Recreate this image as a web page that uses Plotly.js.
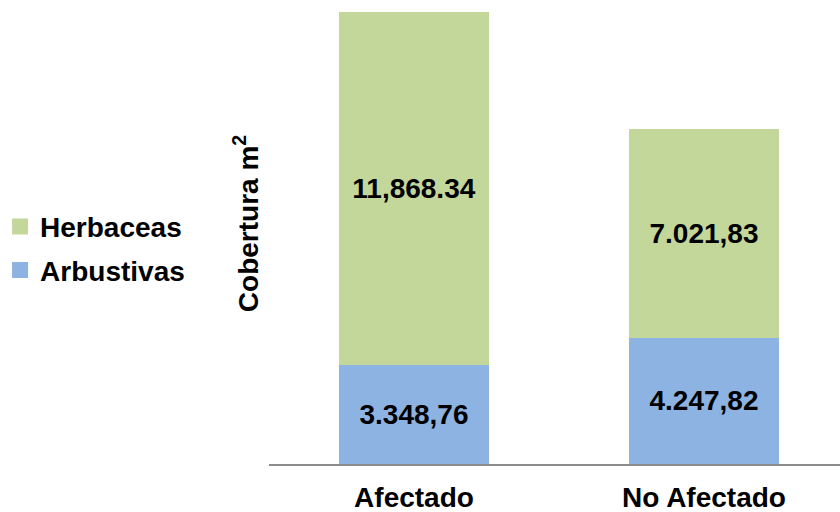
<!DOCTYPE html>
<html>
<head>
<meta charset="utf-8">
<script src="https://cdn.plot.ly/plotly-3.0.1.min.js"></script>
<style>html,body{margin:0;padding:0;background:#fff;}#chart{width:840px;height:512px;}</style>
</head>
<body>
<div id="chart"></div>
<script>
const categories = ["Afectado", "No Afectado"];
const arbustivas = [3348.76, 4247.82];
const herbaceas = [11868.34, 7021.83];
const arbustivasLabels = ["3.348,76", "4.247,82"];
const herbaceasLabels = ["11,868.34", "7.021,83"];
const seriesNames = ["Arbustivas", "Herbaceas"];
const seriesColors = ["#8DB3E2", "#C4D79B"];

const FAM = "Liberation Sans, Arial, sans-serif";
const FS = 28;
const labelFont = {family: FAM, size: FS, color: "#000", weight: "bold"};

const total = Math.max(...arbustivas.map((v, i) => v + herbaceas[i]));

const traces = [
  {type: "bar", name: seriesNames[0], x: categories, y: arbustivas, text: arbustivasLabels,
   textposition: "inside", insidetextanchor: "middle", constraintext: "none", textfont: labelFont,
   marker: {color: seriesColors[0]}, width: 0.514, showlegend: false, hoverinfo: "skip"},
  {type: "bar", name: seriesNames[1], x: categories, y: herbaceas, text: herbaceasLabels,
   textposition: "inside", insidetextanchor: "middle", constraintext: "none", textfont: labelFont,
   marker: {color: seriesColors[1]}, width: 0.514, showlegend: false, hoverinfo: "skip"},
  {type: "scatter", mode: "markers", name: "<b>" + seriesNames[1] + "</b>", x: [null], y: [null],
   marker: {symbol: "square", size: 17, color: seriesColors[1]}, legendrank: 1, legendgroup: "h", hoverinfo: "skip"},
  {type: "scatter", mode: "markers", name: "<b>" + seriesNames[0] + "</b>", x: [null], y: [null],
   marker: {symbol: "square", size: 17, color: seriesColors[0]}, legendrank: 2, legendgroup: "a", hoverinfo: "skip"}
];

const layout = {
  width: 840, height: 512,
  margin: {l: 269, r: 0, t: 12, b: 48, autoexpand: false},
  barmode: "stack",
  paper_bgcolor: "#fff", plot_bgcolor: "#fff",
  font: {family: FAM, size: FS, color: "#000"},
  showlegend: true,
  legend: {x: -0.471, xanchor: "left", y: 0.58, yanchor: "top", traceorder: "grouped",
           tracegroupgap: 4, font: {family: FAM, size: FS, color: "#000"}, itemwidth: 30,
           bgcolor: "rgba(0,0,0,0)"},
  xaxis: {type: "category", range: [-0.5, 1.469], showline: true, linecolor: "#8c8c8c", linewidth: 2,
          ticks: "", showgrid: false, zeroline: false, ticklabelstandoff: 7,
          tickfont: {family: FAM, size: FS, color: "#000", weight: "bold"}},
  yaxis: {range: [0, total], showticklabels: false, showgrid: false, zeroline: false, showline: false, ticks: ""},
  annotations: [
    {text: "<b>Cobertura m<sup>2</sup></b>", textangle: -90, xref: "paper", yref: "paper",
     x: -0.04, y: 0.531, xanchor: "center", yanchor: "middle", showarrow: false,
     font: {family: FAM, size: FS, color: "#000"}}
  ]
};

Plotly.newPlot("chart", traces, layout, {displayModeBar: false, staticPlot: true});
</script>
</body>
</html>
